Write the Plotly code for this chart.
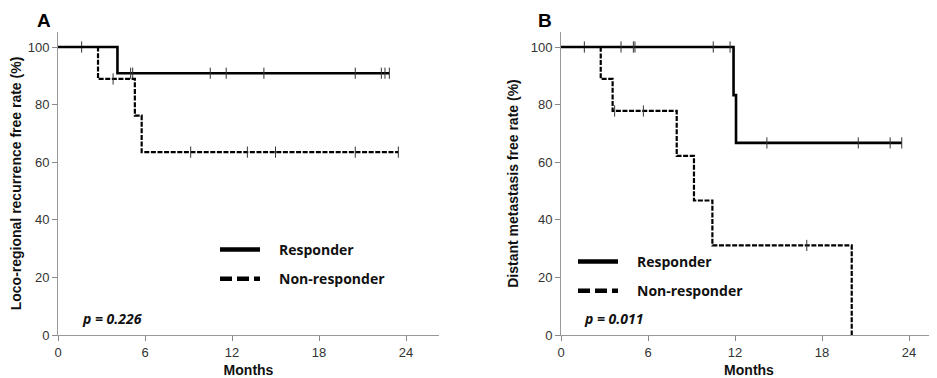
import plotly.graph_objects as go

# ---------------- data (months, survival %) ----------------
# Panel A: loco-regional recurrence free rate
a_resp_event_t = [4.1]
a_resp_event_s = [90.9]
a_resp_censor = [1.63, 5.01, 5.15, 10.5, 11.6, 14.2, 20.5, 22.3, 22.55, 22.85]

a_non_event_t = [2.76, 5.3, 5.77]
a_non_event_s = [88.9, 76.2, 63.5]
a_non_censor = [3.8, 9.15, 13.06, 15.0, 20.5, 23.47]

# Panel B: distant metastasis free rate
b_resp_event_t = [11.9, 12.07]
b_resp_event_s = [83.3, 66.7]
b_resp_censor = [1.61, 4.14, 4.99, 5.1, 10.5, 11.66, 14.2, 20.5, 22.7, 23.5]

b_non_event_t = [2.74, 3.56, 7.98, 9.17, 10.44, 20.05]
b_non_event_s = [88.9, 77.8, 62.2, 46.7, 31.1, 0.0]
b_non_censor = [3.7, 5.68, 16.95]

x_ticks = [0, 6, 12, 18, 24]
y_ticks = [0, 20, 40, 60, 80, 100]
group_names = ["Responder", "Non-responder"]
p_values = ["p = 0.226", "p = 0.011"]
y_titles = ["Loco-regional recurrence free rate (%)", "Distant metastasis free rate (%)"]
panel_labels = ["A", "B"]


def step_curve(event_t, event_s, censor_t):
    end = max([event_t[-1]] + list(censor_t))
    xs = [0.0] + list(event_t) + [end]
    ys = [100.0] + list(event_s) + [event_s[-1]]
    return xs, ys


def surv_at(t, event_t, event_s):
    s = 100.0
    for et, es in zip(event_t, event_s):
        if t >= et:
            s = es
    return s


fig = go.Figure()

panels = [
    ("x", "y", "legend", [(a_resp_event_t, a_resp_event_s, a_resp_censor),
                          (a_non_event_t, a_non_event_s, a_non_censor)]),
    ("x2", "y2", "legend2", [(b_resp_event_t, b_resp_event_s, b_resp_censor),
                             (b_non_event_t, b_non_event_s, b_non_censor)]),
]

styles = [
    dict(color="black", width=2.6, dash="solid"),
    dict(color="black", width=2.2, dash="5px,1.6px"),
]
legend_styles = [
    dict(color="black", width=4.5, dash="solid"),
    dict(color="black", width=4.5, dash="12px,5px"),
]

for pi, (xa, ya, lg, series) in enumerate(panels):
    for si, (et, es, ct) in enumerate(series):
        xs, ys = step_curve(et, es, ct)
        fig.add_trace(go.Scatter(x=xs, y=ys, mode="lines", line_shape="hv",
                                 line=styles[si], xaxis=xa, yaxis=ya,
                                 showlegend=False, hoverinfo="skip"))
        cy = [surv_at(t, et, es) for t in ct]
        fig.add_trace(go.Scatter(x=ct, y=cy, mode="markers",
                                 marker=dict(symbol="line-ns", size=8,
                                             line=dict(color="#333333", width=1)),
                                 xaxis=xa, yaxis=ya, showlegend=False, hoverinfo="skip"))
    for si in range(2):
        fig.add_trace(go.Scatter(x=[None], y=[None], mode="lines",
                                 line=legend_styles[si],
                                 name="\u2002\u2002" + group_names[si],
                                 legend=lg, legendgroup=f"{lg}_{si}",
                                 xaxis=xa, yaxis=ya))

# page has an 8px body margin: figure occupies page pixels 8..937 x 8..378
OFF = 8
W, H = 937 - OFF, 378 - OFF


def px(X):
    return (X - OFF) / W


def py(Y):
    return (378 - Y) / H


y_dom = [py(335), py(32)]
tick_font = dict(family="Liberation Sans, Arial", size=13, color="#333333")
title_font = dict(family="Liberation Sans, Arial", size=14, color="#111111", weight="bold")

common_x = dict(tickvals=x_ticks, ticks="outside", ticklen=5, tickcolor="#888888",
                showline=True, linecolor="#999999", linewidth=1, showgrid=False,
                zeroline=False, tickfont=tick_font, automargin=False,
                title=dict(text="Months", font=title_font, standoff=6))
common_y = dict(tickvals=y_ticks, ticks="outside", ticklen=5, tickcolor="#888888",
                showline=True, linecolor="#999999", linewidth=1, showgrid=False,
                zeroline=False, tickfont=tick_font, domain=y_dom, automargin=False,
                range=[0, 100 * (335 - 32) / 288])

legend_common = dict(xanchor="left", yanchor="top", bgcolor="rgba(0,0,0,0)",
                     borderwidth=0, itemwidth=40, tracegroupgap=8,
                     font=dict(family="Open Sans", size=14, color="#111111", weight="bold"))

fig.update_layout(
    width=W, height=H,
    margin=dict(l=0, r=0, t=0, b=0, autoexpand=False),
    plot_bgcolor="white", paper_bgcolor="white",
    xaxis=dict(domain=[px(58), px(439)], range=[0, (439 - 58) / 14.5], anchor="y", **common_x),
    yaxis=dict(anchor="x", title=dict(text=y_titles[0], font=title_font, standoff=6), **common_y),
    xaxis2=dict(domain=[px(561), 1.0], range=[0, (937 - 561) / 14.5], anchor="y2", **common_x),
    yaxis2=dict(anchor="x2", title=dict(text=y_titles[1], font=title_font, standoff=8), **common_y),
    legend=dict(x=px(215), y=py(234), **legend_common),
    legend2=dict(x=px(573), y=py(246), **legend_common),
    showlegend=True,
)

p_font = dict(family="Open Sans", size=14, color="#111111", weight="bold", style="italic")
fig.add_annotation(x=1.55, y=5.9, xref="x", yref="y", text=p_values[0], showarrow=False,
                   xanchor="left", yanchor="middle", font=p_font)
fig.add_annotation(x=1.45, y=5.9, xref="x2", yref="y2", text=p_values[1], showarrow=False,
                   xanchor="left", yanchor="middle", font=p_font)

lab_font = dict(family="Liberation Sans, Arial", size=19, color="black", weight="bold")
fig.add_annotation(x=px(35), y=1.0, xref="paper", yref="paper", text=panel_labels[0],
                   showarrow=False, xanchor="left", yanchor="top", font=lab_font)
fig.add_annotation(x=px(536), y=1.0, xref="paper", yref="paper", text=panel_labels[1],
                   showarrow=False, xanchor="left", yanchor="top", font=lab_font)

fig.write_html("out.html")
